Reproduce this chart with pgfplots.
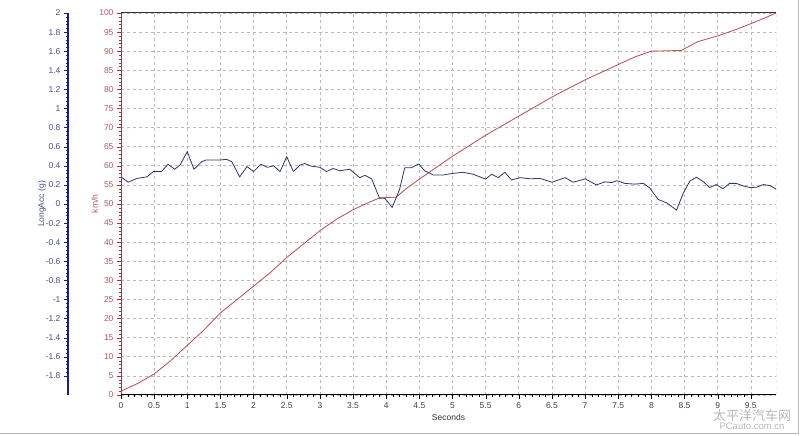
\documentclass[border=0pt]{standalone}
\usepackage{fontspec}
\setmainfont{Liberation Sans}
\newfontfamily\cjk{Noto Sans CJK SC}
\usepackage{pgfplots}
\pgfplotsset{compat=1.18}

\definecolor{kmred}{RGB}{200,40,45}
\definecolor{kmlab}{RGB}{190,85,85}
\definecolor{gblue}{RGB}{25,30,140}
\definecolor{glab}{RGB}{70,80,145}
\definecolor{accline}{RGB}{45,55,105}
\definecolor{spdline}{RGB}{185,75,75}
\definecolor{rightdash}{RGB}{60,100,130}

\pgfplotsset{
  every tick label/.append style={font=\fontsize{8.5}{10}\selectfont},
  /pgf/number format/assume math mode=true,
}

\begin{document}
\begin{tikzpicture}
\path[use as bounding box] (0,0) rectangle (800pt,436pt);

% speed axis (km/h) with grid
\begin{axis}[
  at={(121pt,41pt)}, anchor=south west,
  scale only axis, width=655pt, height=382pt,
  xmin=0, xmax=9.88, ymin=0, ymax=100,
  xtick={0,0.5,1,1.5,2,2.5,3,3.5,4,4.5,5,5.5,6,6.5,7,7.5,8,8.5,9,9.5},
  ytick={0,5,...,100},
  minor x tick num=4, minor y tick num=4,
  tick pos=left, tick align=outside,
  major tick length=4pt, minor tick length=2pt,
  every y tick/.append style={kmred},
  every x tick/.append style={black},
  axis line style={draw=none},
  grid=major,
  major grid style={dashed, gray!55, line width=0.6pt},
  yticklabel style={text=kmlab},
  xticklabel style={text=black!75},
  /pgf/number format/fixed,
  xlabel={Seconds},
  xlabel style={at={(axis description cs:0.5,-0.058)}, anchor=center,
    font=\fontsize{8.5}{10}\selectfont, text=black!80},
  ylabel={km/h},
  ylabel style={at={(axis description cs:-0.04,0.5)}, anchor=center,
    font=\fontsize{8.5}{10}\selectfont, text=kmlab},
]
\addplot[spdline, line width=0.8pt] coordinates {
  (0,1) (0.25,3) (0.5,5.5) (0.75,9) (1,13) (1.25,17) (1.5,21.5) (1.75,25)
  (2,28.5) (2.25,32) (2.5,36) (2.75,39.5) (3,43) (3.25,46) (3.5,48.5)
  (3.75,50.5) (3.9,51.6) (4.15,51.8) (4.3,54) (4.5,56.5) (4.75,59.5)
  (5,62.5) (5.5,68) (6,73) (6.5,78) (7,82.5) (7.5,86.5) (7.75,88.5)
  (8,90) (8.45,90.2) (8.7,92.5) (9,94) (9.25,95.5) (9.5,97.2) (9.75,99)
  (9.88,100)
};
\end{axis}

% acceleration data (g)
\begin{axis}[
  at={(121pt,41pt)}, anchor=south west,
  scale only axis, width=655pt, height=382pt,
  xmin=0, xmax=9.88, ymin=-2, ymax=2,
  hide axis,
]
\addplot[accline, line width=0.8pt] coordinates {
  (0,0.284) (0.11,0.228) (0.24,0.268) (0.39,0.284) (0.49,0.34) (0.61,0.34)
  (0.71,0.416) (0.81,0.364) (0.89,0.408) (1.0,0.548) (1.1,0.364) (1.22,0.444)
  (1.28,0.46) (1.49,0.46) (1.59,0.468) (1.67,0.444) (1.79,0.284) (1.9,0.392)
  (2.0,0.34) (2.11,0.416) (2.21,0.384) (2.3,0.40) (2.4,0.34) (2.5,0.496)
  (2.6,0.34) (2.7,0.408) (2.77,0.424) (2.87,0.396) (3.0,0.384) (3.1,0.34)
  (3.2,0.372) (3.3,0.348) (3.45,0.364) (3.6,0.276) (3.68,0.30) (3.78,0.264)
  (3.9,0.06) (3.98,0.06) (4.09,-0.036) (4.2,0.148) (4.28,0.38) (4.38,0.38)
  (4.49,0.42) (4.58,0.348) (4.71,0.304) (4.86,0.304) (5.0,0.32) (5.16,0.332)
  (5.31,0.312) (5.5,0.26) (5.59,0.312) (5.69,0.276) (5.79,0.332) (5.89,0.252)
  (6.02,0.276) (6.17,0.264) (6.32,0.268) (6.5,0.228) (6.7,0.276) (6.82,0.228)
  (6.95,0.252) (7.0,0.264) (7.17,0.20) (7.3,0.232) (7.4,0.224) (7.48,0.244)
  (7.6,0.216) (7.75,0.208) (7.88,0.216) (7.98,0.164) (8.1,0.048) (8.23,0.012)
  (8.38,-0.064) (8.48,0.112) (8.58,0.24) (8.68,0.28) (8.78,0.236) (8.88,0.172)
  (8.98,0.204) (9.08,0.16) (9.18,0.216) (9.28,0.216) (9.39,0.188) (9.49,0.172)
  (9.59,0.176) (9.69,0.204) (9.79,0.192) (9.88,0.156)
};
\draw[kmred, line width=2.5pt] (rel axis cs:0,0) -- (rel axis cs:0,1);
\draw[black, line width=1.8pt] (rel axis cs:0,0) -- (rel axis cs:1,0);
\draw[black!80, line width=1pt] (rel axis cs:0,1) -- (rel axis cs:1,1);
\draw[rightdash, dashed, line width=1pt] (rel axis cs:1,0) -- (rel axis cs:1,1);
\end{axis}

% separate LongAcc axis on the far left
\begin{axis}[
  at={(68pt,41pt)}, anchor=south west,
  scale only axis, width=1pt, height=382pt,
  xmin=0, xmax=1, ymin=-2, ymax=2,
  hide x axis, axis y line=left,
  y axis line style={gblue, line width=1.6pt, -},
  ytick={-1.8,-1.6,-1.4,-1.2,-1,-0.8,-0.6,-0.4,-0.2,0,0.2,0.4,0.6,0.8,1,1.2,1.4,1.6,1.8,2},
  minor y tick num=4,
  tick align=outside,
  major tick length=4pt, minor tick length=2pt,
  every y tick/.append style={gblue},
  yticklabel style={text=glab},
  /pgf/number format/fixed,
  ylabel={LongAcc (g)},
  ylabel style={at={(axis description cs:-26,0.5)}, anchor=center,
    font=\fontsize{8.5}{10}\selectfont, text=glab},
]
\addplot[draw=none] coordinates {(0,0)};
\end{axis}

% frame and watermark
\draw[gray!55, line width=1pt] (0,2pt) -- (798pt,2pt) -- (798pt,436pt);
\node[text=black!28, font=\cjk\fontsize{13}{14}\selectfont] at (752pt,20pt) {太平洋汽车网};
\node[text=black!28, font=\fontsize{9.5}{10}\selectfont] at (752pt,10pt) {PCauto.com.cn};
\end{tikzpicture}
\end{document}
